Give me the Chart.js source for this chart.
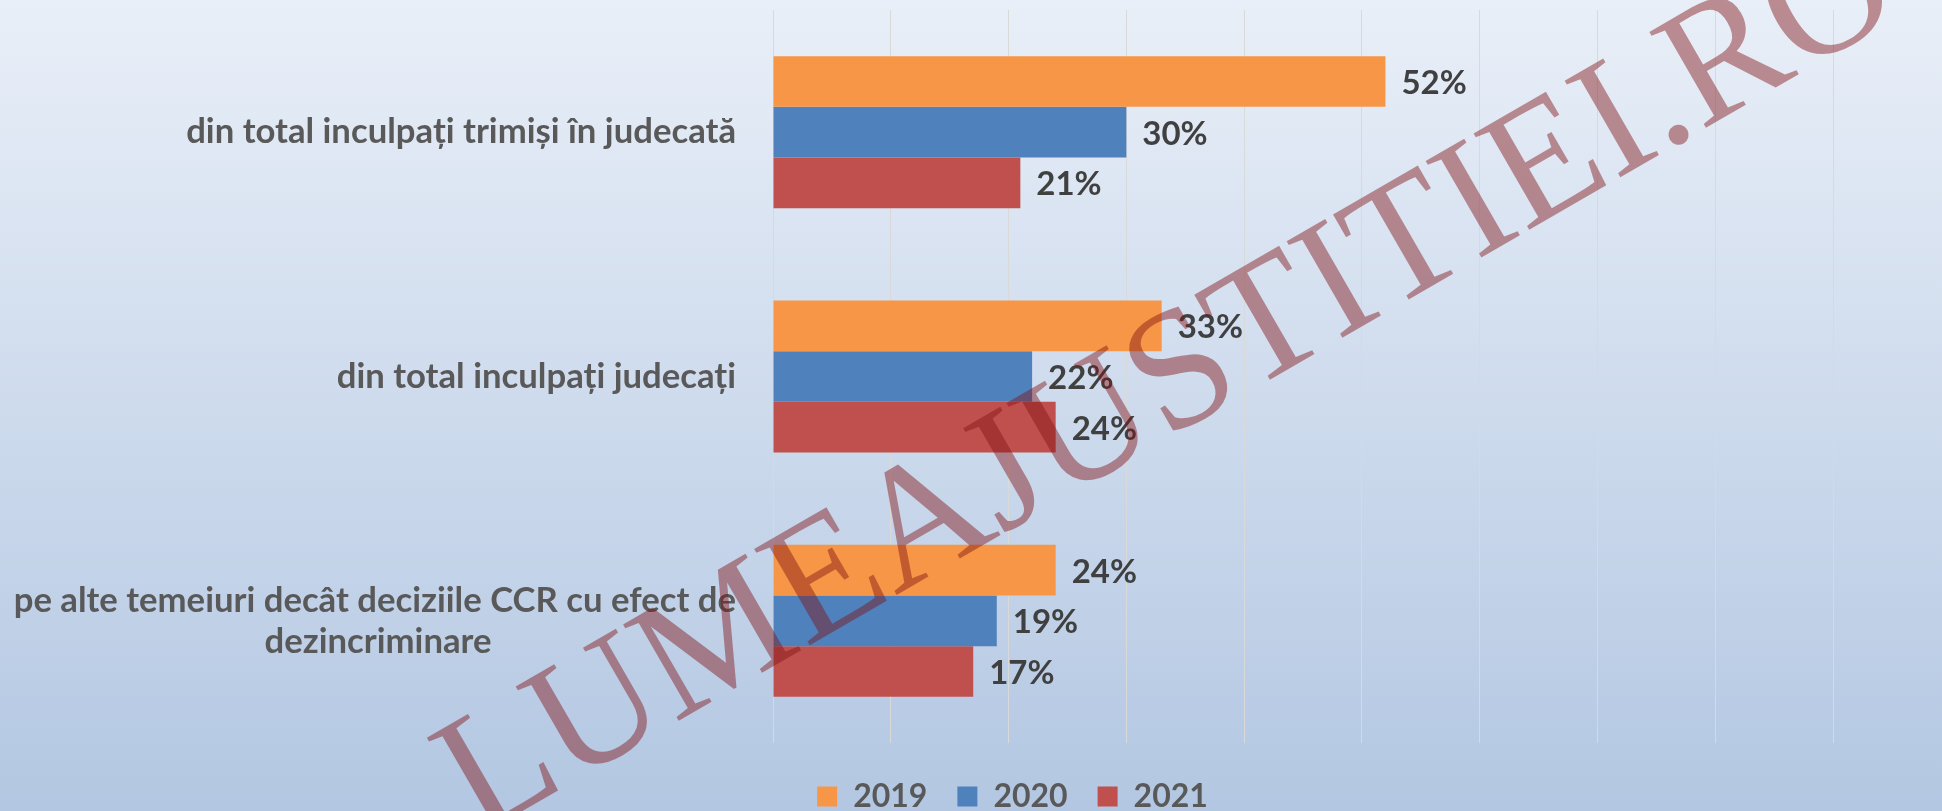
<!DOCTYPE html>
<html><head><meta charset="utf-8">
<script src="https://cdn.jsdelivr.net/npm/chart.js@4.4.1/dist/chart.umd.min.js"></script>
<style>html,body{margin:0;padding:0;overflow:hidden;background:#fff}#wrap{width:1942px;height:811px;position:relative}canvas{display:block}</style>
</head><body><div id="wrap"><canvas id="c" width="1942" height="811"></canvas></div>
<script>
const categories = [
  "din total inculpați trimiși în judecată",
  "din total inculpați judecați",
  ["pe alte temeiuri decât deciziile CCR cu efect de", "dezincriminare"]
];
const seriesNames = ["2019", "2020", "2021"];
const values2019 = [52, 33, 24];
const values2020 = [30, 22, 19];
const values2021 = [21, 24, 17];
const seriesColors = ["#F79646", "#4F81BD", "#C0504D"];
const xTicks = [0, 10, 20, 30, 40, 50, 60, 70, 80, 90];
const watermarkText = "LUMEAJUSTITIEI.RO";

const SANS = "Lato, 'Open Sans', sans-serif";
const tickFontSize = 34.7;
const measureCtx = document.createElement('canvas').getContext('2d');
measureCtx.font = "bold " + tickFontSize + "px " + SANS;

function centeredLines(label) {
  if (!Array.isArray(label)) return label;
  const widths = label.map(l => measureCtx.measureText(l).width);
  const maxW = Math.max(...widths);
  const sp = measureCtx.measureText(" ").width;
  return label.map((l, i) => l + " ".repeat(Math.round((maxW - widths[i]) / 2 / sp)));
}

const bgPlugin = {
  id: 'bg',
  beforeDraw(chart) {
    const ctx = chart.ctx;
    const g = ctx.createLinearGradient(0, 0, 0, chart.height);
    g.addColorStop(0, '#e9eff8');
    g.addColorStop(1, '#b3c7e2');
    ctx.save();
    ctx.fillStyle = g;
    ctx.fillRect(0, 0, chart.width, chart.height);
    ctx.restore();
  }
};

const legendShiftPlugin = {
  id: 'legendShift',
  afterLayout(chart) {
    const lg = chart.legend;
    if (lg) { lg.left += 96; lg.right += 96; }
  }
};

const dataLabelPlugin = {
  id: 'dl',
  afterDatasetsDraw(chart) {
    const ctx = chart.ctx;
    ctx.save();
    ctx.font = "bold 33px " + SANS;
    ctx.fillStyle = "#404040";
    ctx.textAlign = 'left';
    ctx.textBaseline = 'middle';
    chart.data.datasets.forEach((ds, i) => {
      const meta = chart.getDatasetMeta(i);
      meta.data.forEach((bar, j) => {
        ctx.fillText(ds.data[j] + '%', bar.x + 16, bar.y + 2);
      });
    });
    ctx.restore();
  }
};

const watermarkPlugin = {
  id: 'wm',
  afterDraw(chart) {
    const ctx = chart.ctx;
    ctx.save();
    ctx.translate(1664, 152);
    ctx.rotate(-30 * Math.PI / 180);
    ctx.font = "170px 'Liberation Serif', 'Times New Roman', serif";
    const prefix = watermarkText.slice(0, watermarkText.lastIndexOf('.'));
    const w = ctx.measureText(prefix).width;
    ctx.fillStyle = 'rgba(128,17,20,0.45)';
    ctx.textBaseline = 'alphabetic';
    ctx.textAlign = 'left';
    ctx.fillText(watermarkText, -w, 0);
    ctx.restore();
  }
};

new Chart(document.getElementById('c'), {
  type: 'bar',
  data: {
    labels: categories,
    datasets: [
      { label: seriesNames[0], data: values2019, backgroundColor: seriesColors[0] },
      { label: seriesNames[1], data: values2020, backgroundColor: seriesColors[1] },
      { label: seriesNames[2], data: values2021, backgroundColor: seriesColors[2] }
    ]
  },
  options: {
    indexAxis: 'y',
    responsive: false,
    animation: false,
    devicePixelRatio: 1,
    datasets: { bar: { barPercentage: 1, categoryPercentage: 0.622, borderWidth: 0 } },
    layout: { padding: { left: 0, right: 109, top: 10, bottom: -11.5 } },
    scales: {
      x: {
        min: xTicks[0],
        max: xTicks[xTicks.length - 1],
        afterBuildTicks(scale) { scale.ticks = xTicks.map(v => ({ value: v })); },
        ticks: { display: false },
        grid: { color: '#d9d9d9', lineWidth: 1, drawTicks: false },
        border: { display: false },
        afterFit(scale) { scale.height = 7.5; scale.paddingLeft = 0; scale.paddingRight = 0; }
      },
      y: {
        grid: { display: false, drawTicks: false },
        border: { display: false },
        ticks: {
          padding: 37,
          color: '#595959',
          font: { family: SANS, size: tickFontSize, weight: 'bold', lineHeight: 1.18 },
          callback(value, index) { return centeredLines(categories[index]); }
        },
        afterFit(scale) { scale.width = 773; scale.paddingTop = 0; scale.paddingBottom = 0; }
      }
    },
    plugins: {
      tooltip: { enabled: false },
      legend: {
        position: 'bottom',
        labels: {
          boxWidth: 20,
          boxHeight: 20,
          padding: 30,
          color: '#595959',
          font: { family: SANS, size: 32, weight: 'bold' }
        }
      }
    }
  },
  plugins: [bgPlugin, legendShiftPlugin, dataLabelPlugin, watermarkPlugin]
});
</script>
</body></html>
